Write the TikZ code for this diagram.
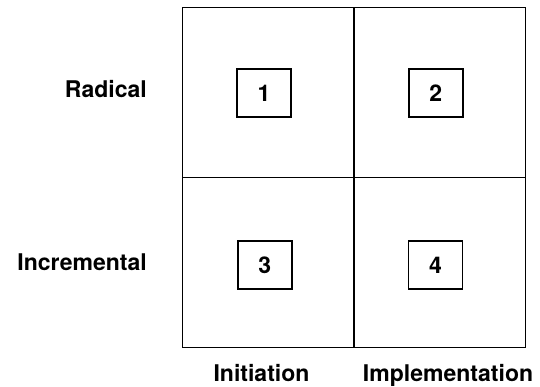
\documentclass[tikz,border=0pt]{standalone}
\usepackage{fontspec}
\setmainfont{TeX Gyre Heros}
\begin{document}
\begin{tikzpicture}[x=1pt,y=-1pt,
  every node/.style={font=\fontsize{23}{27}\selectfont\bfseries},
  numbox/.style={draw,line width=1.6pt,minimum width=54pt,minimum height=48pt,inner sep=0pt},
  axislabel/.style={inner sep=0pt},
  gridline/.style={line width=1.9pt}]
\useasboundingbox (0,0) rectangle (540,387);
% quadrant frame
\coordinate (tl) at (182.5,7.5);
\coordinate (br) at (525.5,347.5);
\coordinate (tm) at (354,7.5);
\coordinate (bm) at (354,347.5);
\coordinate (ml) at (182.5,177.5);
\coordinate (mr) at (525.5,177.5);
\draw[gridline] (tl) rectangle (br);
\draw[gridline] (tm) -- (bm);
\draw[gridline] (ml) -- (mr);
% numbered boxes
\node[numbox] (q1) at (264,93) {1};
\node[numbox] (q2) at (435.7,93) {2};
\node[numbox] (q3) at (264.7,265) {3};
\node[numbox] (q4) at (435.5,265) {4};
% axis labels
\node[axislabel,anchor=base east] (rad) at (147,98) {Radical};
\node[axislabel,anchor=base east] (inc) at (147,270) {Incremental};
\node[axislabel,anchor=base] (ini) at (261.5,381.5) {Initiation};
\node[axislabel,anchor=base] (imp) at (448,381.5) {Implementation};
\end{tikzpicture}
\end{document}
